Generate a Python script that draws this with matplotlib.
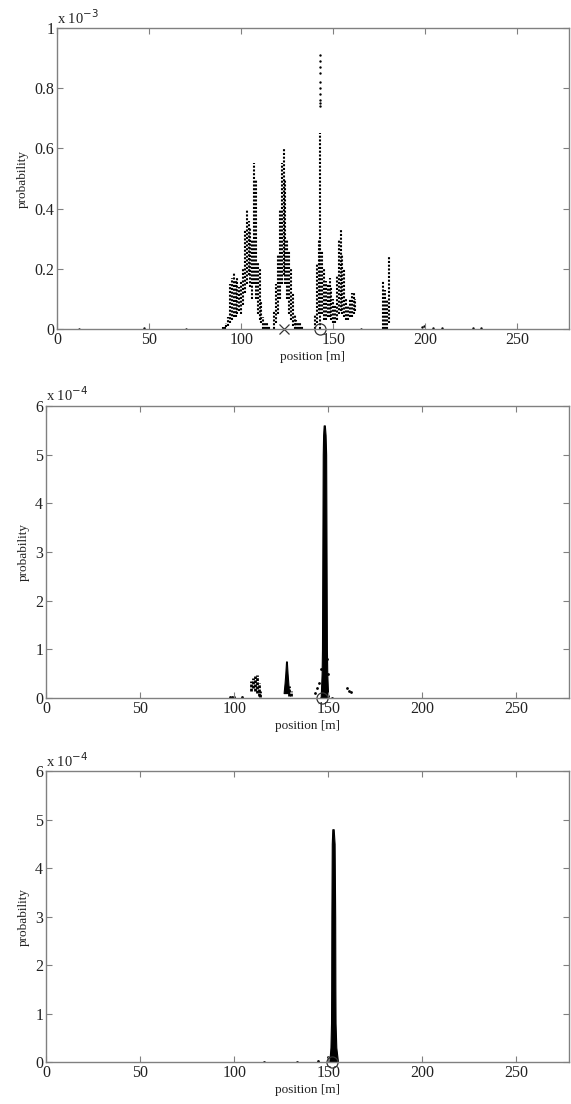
import numpy as np
import matplotlib.pyplot as plt

plt.rcParams['font.family'] = ['Liberation Serif', 'DejaVu Serif']

# ---- panel 1 (probability in units of 1e-3) ----
# vertical point columns: position, lowest and highest point
p1_x  = [90, 91, 92, 93, 94, 95, 96, 97, 98, 99, 100, 101, 102, 103, 104, 105, 106,
         107, 108, 109, 110, 111, 112, 113, 114, 115,
         118, 119, 120, 121, 122, 123, 124, 125, 126, 127, 128, 129, 130, 131, 132, 133,
         140, 141, 142, 143, 144, 145, 146, 147, 148, 149, 150, 151,
         152, 153, 154, 155, 156, 157, 158, 159, 160, 161, 162,
         177, 178, 179, 180]
p1_lo = [0.0, 0.0, 0.005, 0.01, 0.02, 0.03, 0.04, 0.04, 0.05, 0.06, 0.05, 0.08, 0.12, 0.15, 0.18, 0.14, 0.10,
         0.15, 0.10, 0.05, 0.03, 0.02, 0.0, 0.0, 0.0, 0.0,
         0.0, 0.02, 0.05, 0.10, 0.15, 0.18, 0.15, 0.10, 0.05, 0.03, 0.01, 0.0, 0.0, 0.0, 0.0, 0.0,
         0.0, 0.02, 0.05, 0.0, 0.05, 0.03, 0.03, 0.04, 0.04, 0.03, 0.02, 0.02,
         0.03, 0.05, 0.06, 0.05, 0.04, 0.03, 0.03, 0.04, 0.04, 0.05, 0.06,
         0.0, 0.0, 0.0, 0.02]
p1_hi = [0.005, 0.01, 0.02, 0.04, 0.15, 0.17, 0.19, 0.16, 0.17, 0.14, 0.16, 0.20, 0.33, 0.40, 0.36, 0.34, 0.30,
         0.55, 0.50, 0.22, 0.20, 0.09, 0.04, 0.02, 0.02, 0.01,
         0.06, 0.15, 0.25, 0.40, 0.55, 0.60, 0.50, 0.30, 0.26, 0.20, 0.12, 0.05, 0.03, 0.02, 0.02, 0.01,
         0.05, 0.22, 0.30, 0.65, 0.26, 0.20, 0.16, 0.15, 0.17, 0.14, 0.10, 0.08,
         0.18, 0.30, 0.33, 0.25, 0.20, 0.10, 0.08, 0.10, 0.12, 0.12, 0.10,
         0.16, 0.13, 0.10, 0.24]
# isolated points
p1_dots_x = [12, 47, 70, 165, 198, 199, 204, 209, 226, 230,
             143, 143, 143, 143, 143, 143, 143, 143, 143, 143]
p1_dots_y = [0.0, 0.002, 0.001, 0.0, 0.005, 0.01, 0.003, 0.003, 0.002, 0.002,
             0.91, 0.89, 0.87, 0.85, 0.82, 0.80, 0.78, 0.76, 0.75, 0.74]
p1_cross = 123.4
p1_circle = 143.0

# ---- panel 2 (units of 1e-4) ----
p2_x  = [109, 110, 111, 112, 113, 114, 129, 130]
p2_lo = [0.15, 0.20, 0.15, 0.10, 0.05, 0.02, 0.05, 0.05]
p2_hi = [0.35, 0.40, 0.45, 0.48, 0.30, 0.15, 0.25, 0.15]
# dense main peaks: outline as (level, left, right)
p2_peak_y = [0.0, 0.5, 1.0, 2.0, 3.0, 4.0, 5.0, 5.4, 5.6]
p2_peak_l = [146.0, 146.5, 146.7, 146.8, 146.9, 147.0, 147.1, 147.3, 147.6]
p2_peak_r = [150.0, 149.5, 149.3, 149.2, 149.1, 149.0, 148.9, 148.6, 148.2]
p2_small_y = [0.1, 0.3, 0.5, 0.75]
p2_small_l = [126.3, 126.8, 127.2, 127.6]
p2_small_r = [129.2, 128.8, 128.4, 128.0]
p2_dots_x = [98, 99, 100, 104, 143, 144, 145, 146, 150, 152, 160, 161, 162, 149.8, 149.6, 146.2]
p2_dots_y = [0.02, 0.02, 0.01, 0.01, 0.1, 0.2, 0.3, 0.0, 0.03, 0.0, 0.2, 0.15, 0.12, 0.5, 0.8, 0.6]
p2_circle = 146.7

# ---- panel 3 (units of 1e-4) ----
p3_peak_y = [0.0, 0.3, 0.8, 1.5, 3.0, 4.5, 4.8]
p3_peak_l = [150.6, 151.2, 151.5, 151.6, 151.7, 151.9, 152.2]
p3_peak_r = [155.2, 154.3, 153.9, 153.8, 153.7, 153.4, 152.9]
p3_dots_x = [116, 133.5, 144.5, 150]
p3_dots_y = [0.0, 0.0, 0.02, 0.1]
p3_circle = 152.0

gray = '#808080'
txt = '#222222'


def style(ax, ymax, yticks, yticklabels, expo):
    ax.set_xlim(0, 278)
    ax.set_ylim(0, ymax)
    ax.set_xticks([0, 50, 100, 150, 200, 250])
    ax.set_yticks(yticks)
    ax.set_yticklabels(yticklabels)
    for s in ax.spines.values():
        s.set_color(gray)
        s.set_linewidth(1.0)
    ax.tick_params(direction='in', length=4, width=0.8, color=gray,
                   top=True, right=True, labelsize=11.5, labelcolor=txt, pad=2)
    ax.set_xlabel('position [m]', fontsize=9.5, color=txt, labelpad=2)
    ax.set_ylabel('probability', fontsize=9.5, color=txt, labelpad=4)
    ax.text(0.0, 1.005, r'x 10$^{%d}$' % expo, transform=ax.transAxes,
            fontsize=10.5, color=txt, ha='left', va='bottom')


fig = plt.figure(figsize=(5.71, 11.04), dpi=100)
ax1 = fig.add_axes([0.0998, 0.702, 0.8967, 0.2726])
ax2 = fig.add_axes([0.0806, 0.3678, 0.9159, 0.2645])
ax3 = fig.add_axes([0.0806, 0.038, 0.9159, 0.2636])

dot = (0, (1, 0.8))

# panel 1
ax1.vlines(p1_x, p1_lo, p1_hi, colors='k', linestyles=dot, linewidth=1.5)
ax1.scatter(p1_dots_x, p1_dots_y, s=3, c='k', lw=0)
ax1.plot(p1_cross, 0, 'x', color='#333333', ms=7, mew=0.9, clip_on=False)
ax1.plot(p1_circle, 0, 'o', mfc='none', mec='#333333', ms=8, mew=0.9, clip_on=False)
style(ax1, 1.0, [0, 0.2, 0.4, 0.6, 0.8, 1.0], ['0', '0.2', '0.4', '0.6', '0.8', '1'], -3)

# panel 2
ax2.fill_betweenx(p2_peak_y, p2_peak_l, p2_peak_r, color='k', lw=0.8)
ax2.fill_betweenx(p2_small_y, p2_small_l, p2_small_r, color='k', lw=0.8)
ax2.vlines(p2_x, p2_lo, p2_hi, colors='k', linestyles=(0, (1, 0.5)), linewidth=2.0)
ax2.scatter(p2_dots_x, p2_dots_y, s=4, c='k', lw=0)
ax2.plot(p2_circle, 0, 'o', mfc='none', mec='#333333', ms=8, mew=0.9, clip_on=False)
style(ax2, 6, [0, 1, 2, 3, 4, 5, 6], ['0', '1', '2', '3', '4', '5', '6'], -4)

# panel 3
ax3.fill_betweenx(p3_peak_y, p3_peak_l, p3_peak_r, color='k', lw=0.8)
ax3.scatter(p3_dots_x, p3_dots_y, s=4, c='k', lw=0)
ax3.plot(p3_circle, 0, 'o', mfc='none', mec='#333333', ms=8, mew=0.9, clip_on=False)
style(ax3, 6, [0, 1, 2, 3, 4, 5, 6], ['0', '1', '2', '3', '4', '5', '6'], -4)

fig.savefig('out.png', dpi=100)
